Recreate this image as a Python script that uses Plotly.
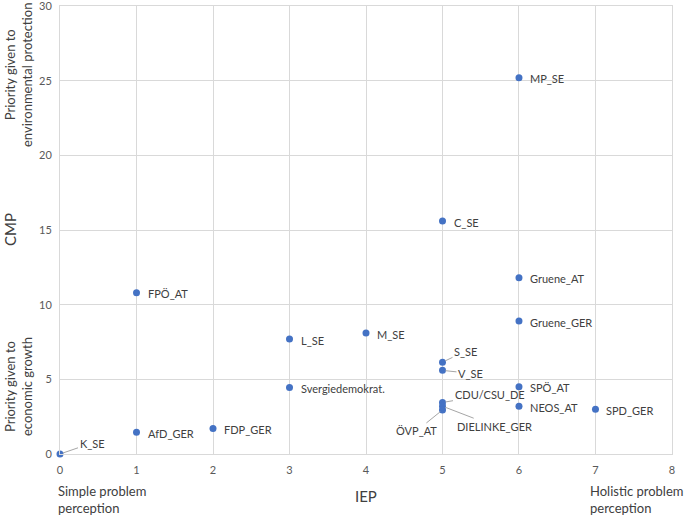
import plotly.graph_objects as go

# ---- data ----
parties = ["K_SE", "AfD_GER", "FDP_GER", "FPÖ_AT", "L_SE", "Svergiedemokrat.",
           "M_SE", "C_SE", "S_SE", "V_SE", "CDU/CSU_DE", "DIELINKE_GER", "ÖVP_AT",
           "MP_SE", "Gruene_AT", "Gruene_GER", "SPÖ_AT", "NEOS_AT", "SPD_GER"]
iep = [0, 1, 2, 1, 3, 3, 4, 5, 5, 5, 5, 5, 5, 6, 6, 6, 6, 6, 7]
cmp_vals = [0.0, 1.45, 1.7, 10.8, 7.7, 4.45, 8.1, 15.6, 6.15, 5.6, 3.45, 3.2, 2.95,
            25.2, 11.8, 8.9, 4.5, 3.2, 3.0]
x_ticks = [0, 1, 2, 3, 4, 5, 6, 7, 8]
y_ticks = [0, 5, 10, 15, 20, 25, 30]

# labels drawn with leader lines: (ax, ay) offsets in pixels
leader = {
    "K_SE": (32, -11),
    "S_SE": (23, -11),
    "V_SE": (28, 3),
    "CDU/CSU_DE": (47, -8),
    "DIELINKE_GER": (52, 20),
    "ÖVP_AT": (-26, 21),
}

FONT = "Lato, 'Open Sans', sans-serif"
GRID = "#D9D9D9"
LABEL_COL = "#404040"

fig = go.Figure()
fig.add_trace(go.Scatter(
    x=iep, y=cmp_vals, mode="markers",
    marker=dict(color="#4472C4", size=7),
    hoverinfo="text", text=parties, showlegend=False, cliponaxis=False,
))

annotations = []
for name, xv, yv in zip(parties, iep, cmp_vals):
    if name in leader:
        ax, ay = leader[name]
        annotations.append(dict(
            x=xv, y=yv, xref="x", yref="y", text=name, showarrow=True,
            ax=ax, ay=ay, arrowhead=0, arrowwidth=1, arrowcolor="#A6A6A6",
            standoff=3, font=dict(family=FONT, size=11, color=LABEL_COL),
        ))
    else:
        annotations.append(dict(
            x=xv, y=yv, xref="x", yref="y", text=name, showarrow=False,
            xanchor="left", yanchor="middle", xshift=9, yshift=-1,
            font=dict(family=FONT, size=11, color=LABEL_COL),
        ))

side_font = dict(family=FONT, size=13, color=LABEL_COL)
annotations += [
    dict(text="CMP", xref="paper", yref="paper", x=0, y=0.5, xshift=-50,
         xanchor="center", yanchor="middle",
         textangle=-90, showarrow=False, font=dict(family=FONT, size=15, color=LABEL_COL)),
    dict(text="IEP", xref="paper", yref="paper", x=0.5, y=0, yshift=-42,
         xanchor="center", yanchor="middle",
         showarrow=False, font=dict(family=FONT, size=15, color=LABEL_COL)),
    dict(text="Priority given to<br>environmental protection", xref="paper", yref="paper",
         x=0, y=1, xshift=-42, yshift=-69, xanchor="center", yanchor="middle",
         textangle=-90, showarrow=False, font=side_font),
    dict(text="Priority given to<br>economic growth", xref="paper", yref="paper",
         x=0, y=0, xshift=-42, yshift=67, xanchor="center", yanchor="middle",
         textangle=-90, showarrow=False, font=side_font),
    dict(text="Simple problem<br>perception", xref="paper", yref="paper",
         x=0, y=0, xanchor="left", yanchor="top", xshift=-4, yshift=-27, align="left",
         showarrow=False, font=side_font),
    dict(text="Holistic problem<br>perception", xref="paper", yref="paper",
         x=1, y=0, xanchor="right", yanchor="top", xshift=13, yshift=-27, align="left",
         showarrow=False, font=side_font),
]

fig.update_layout(
    width=685, height=516,
    margin=dict(l=60, r=13, t=6, b=62, autoexpand=False),
    paper_bgcolor="white", plot_bgcolor="white",
    annotations=annotations,
    font=dict(family=FONT),
)
fig.update_xaxes(
    range=[0, 8.0001], tickvals=x_ticks, showgrid=True, gridcolor=GRID, gridwidth=1,
    zeroline=False, showline=True, linecolor=GRID, mirror=True, automargin=False,
    ticks="outside", ticklen=6, tickcolor="rgba(0,0,0,0)", ticklabeloverflow="allow",
    tickfont=dict(family=FONT, size=11, color="#595959"),
)
fig.update_yaxes(
    range=[0, 30.0001], tickvals=y_ticks, showgrid=True, gridcolor=GRID, gridwidth=1,
    zeroline=False, showline=True, linecolor=GRID, mirror=True, automargin=False,
    ticks="outside", ticklen=5, tickcolor="rgba(0,0,0,0)", ticklabeloverflow="allow",
    tickfont=dict(family=FONT, size=11, color="#595959"),
)

fig.write_html("out.html", config={"displayModeBar": False},
               post_script="document.body.style.margin='0px';document.body.style.overflow='hidden';")
